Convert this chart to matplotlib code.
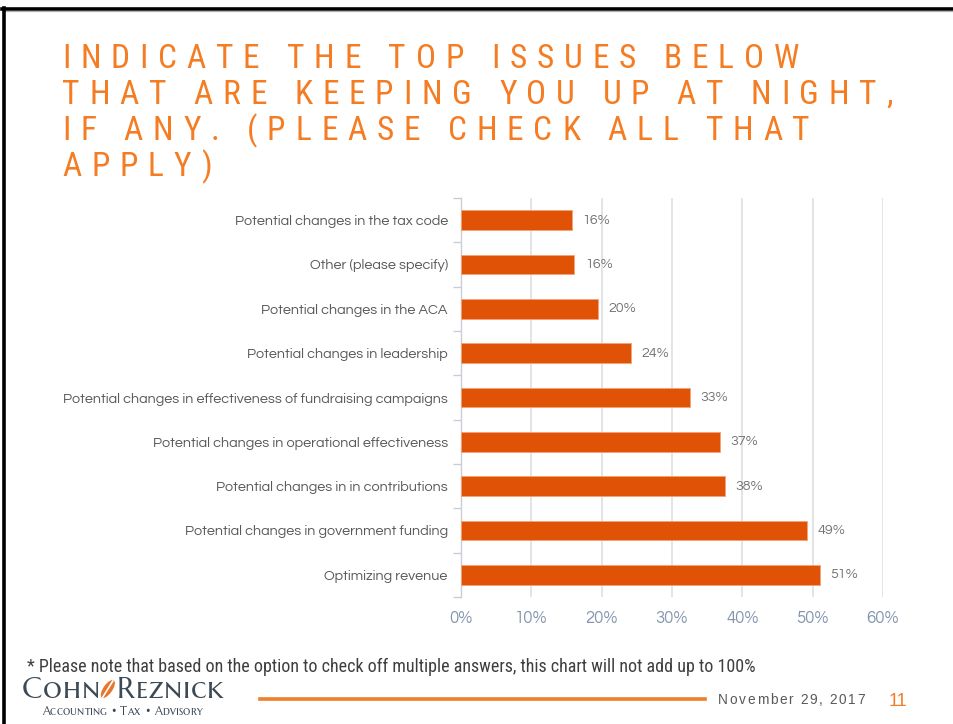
import matplotlib
matplotlib.use("Agg")
import matplotlib.pyplot as plt
import numpy as np
from matplotlib.lines import Line2D
from matplotlib.transforms import Affine2D
from matplotlib.patches import Ellipse
from matplotlib.font_manager import FontProperties, findfont, get_font
try:
    from matplotlib.ft2font import LoadFlags
    NO_HINT = LoadFlags.NO_HINTING
except Exception:
    from matplotlib.ft2font import LOAD_NO_HINTING as NO_HINT

# ---------------- data ----------------
categories = [
    "Potential changes in the tax code",
    "Other (please specify)",
    "Potential changes in the ACA",
    "Potential changes in leadership",
    "Potential changes in effectiveness of fundraising campaigns",
    "Potential changes in operational effectiveness",
    "Potential changes in in contributions",
    "Potential changes in government funding",
    "Optimizing revenue",
]
values = [15.8, 16.1, 19.5, 24.2, 32.6, 36.8, 37.6, 49.2, 51.0]
xticks = [0, 10, 20, 30, 40, 50, 60]
xticklabels = ["0%", "10%", "20%", "30%", "40%", "50%", "60%"]
title_lines = [
    "INDICATE THE TOP ISSUES BELOW",
    "THAT ARE KEEPING YOU UP AT NIGHT,",
    "IF ANY. (PLEASE CHECK ALL THAT",
    "APPLY)",
]
footnote = "* Please note that based on the option to check off multiple answers, this chart will not add up to 100%"
date_text = "November 29, 2017"
page_num = "11"

# ---------------- figure ----------------
W, H, DPI = 954, 724, 100
fig = plt.figure(figsize=(W / DPI, H / DPI), dpi=DPI)
fig.patch.set_facecolor("white")
px = Affine2D().scale(1.0 / DPI) + fig.dpi_scale_trans  # pixel coords, origin bottom-left

ORANGE_T = "#F47D24"
BAR = "#E05206"
LABEL = "#595959"
TICK = "#8496AE"
CHART_FONT = ["Questrial", "Didact Gothic", "Lato", "DejaVu Sans"]
NARROW = ["Roboto Condensed", "PT Sans Narrow", "Liberation Sans", "DejaVu Sans"]
SANS = ["Liberation Sans", "DejaVu Sans"]
SERIF_SC = ["Marcellus SC", "Liberation Serif", "DejaVu Serif"]


def advances(s, family, size):
    prop = FontProperties(family=family, size=size)
    font = get_font(findfont(prop))
    font.set_size(size, DPI)
    out = []
    for c in s:
        g = font.load_char(ord(c), flags=NO_HINT)
        out.append(g.linearHoriAdvance / 65536.0)
    return out


def tracked(s, x0, ybase, family, size, color, tracking, draw=True):
    adv = advances(s, family, size)
    x = x0
    for c, a in zip(s, adv):
        if draw and c != " ":
            fig.text(x, H - ybase, c, transform=px, family=family, fontsize=size,
                     color=color, ha="left", va="baseline")
        x += a + tracking
    return x


# frame lines
fig.add_artist(Line2D([2, W], [H - 9, H - 9], transform=px, color="black", lw=2.6))
fig.add_artist(Line2D([5, W], [H - 11.3, H - 11.3], transform=px, color="#B0B0B0", lw=0.9))
fig.add_artist(Line2D([3.5, 3.5], [0, H - 8], transform=px, color="black", lw=2.6))

# title with letter spacing (tracking fitted to the widths of the first two lines)
TSIZE = 24
A1 = sum(advances(title_lines[0], NARROW, TSIZE))
A2 = sum(advances(title_lines[1], NARROW, TSIZE))
n1, n2 = len(title_lines[0]) - 1, len(title_lines[1]) - 1
track = (n1 * (744.0 - A1) + n2 * (825.0 - A2)) / (n1 ** 2 + n2 ** 2)
baselines = [68, 104, 140, 176]
for line, yb in zip(title_lines, baselines):
    tracked(line, 62, yb, NARROW, TSIZE, ORANGE_T, track)

# ---------------- chart ----------------
ax = fig.add_axes([461 / W, 1 - 597 / H, 422 / W, 399 / H])
n = len(categories)
y = np.arange(n)
ax.barh(y, values, height=0.445, color=BAR, edgecolor="#F3A474", linewidth=0.6, zorder=3)
ax.set_xlim(0, 60)
ax.set_ylim(n - 0.5, -0.5)

ax.set_xticks(xticks)
ax.set_xticklabels(xticklabels, family=CHART_FONT, fontsize=12, color=TICK)
ax.tick_params(axis="x", length=0, pad=10)
ax.grid(axis="x", color="#DADDE0", lw=1.1, zorder=0)

ax.set_yticks(np.arange(-0.5, n, 1.0))
ax.set_yticklabels([])
ax.tick_params(axis="y", which="major", length=6, color="#C9CED3", width=1)
ax.set_yticks(y, minor=True)
ax.set_yticklabels(categories, minor=True, family=CHART_FONT, fontsize=10.4, color=LABEL)
ax.tick_params(axis="y", which="minor", length=0, pad=9.5)

for s in ["top", "right", "bottom"]:
    ax.spines[s].set_visible(False)
ax.spines["left"].set_color("#C9CED3")
ax.spines["left"].set_linewidth(1)

for yi, v in zip(y, values):
    ax.annotate(f"{int(v + 0.5)}%", (v, yi), xytext=(7.5, 0), textcoords="offset points",
                va="center", ha="left", family=CHART_FONT, fontsize=10.3, color="#767676")

# ---------------- footer ----------------
fig.text(27, H - 667, footnote, transform=px, family=NARROW, fontsize=13,
         color="#3F3F3F", ha="left", va="center")

fig.add_artist(Line2D([260, 705], [H - 699, H - 699], transform=px, color="#F07F2A", lw=2.6))
tracked(date_text, 718, 704, SANS, 9.8, "#595959", 1.7)
fig.text(889, H - 706, page_num, transform=px, family=SANS,
         fontsize=13, color=ORANGE_T, ha="left", va="baseline")

# logo
LOGO = "#3D4A55"
x = 22
x = tracked("Cohn", x, 698, SERIF_SC, 21.4, LOGO, 0.7)
leaf_x = x + 8
fig.add_artist(Ellipse((leaf_x, H - 689), 9, 21, angle=-35, transform=px,
                       facecolor="#E8762D", edgecolor="none"))
fig.add_artist(Line2D([leaf_x - 5, leaf_x + 5], [H - 697, H - 681], transform=px,
                      color="white", lw=1.2))
x = leaf_x + 9
x = tracked("Reznick", x, 698, SERIF_SC, 21.4, LOGO, 0.7)
tracked("Accounting • Tax • Advisory", 42, 715, SERIF_SC, 8.4, LOGO, 0.1)

fig.savefig("out.png", dpi=DPI, facecolor="white")
